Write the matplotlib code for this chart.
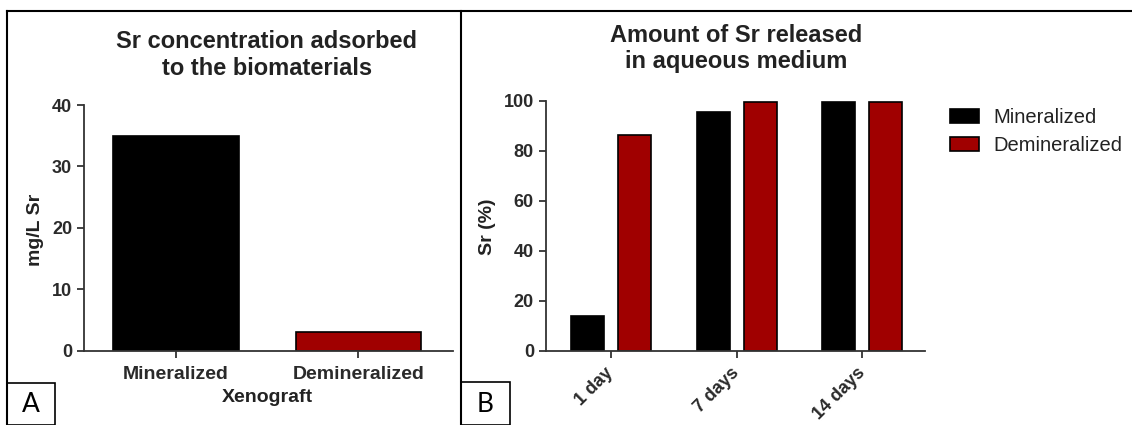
import numpy as np
import matplotlib
matplotlib.use("Agg")
import matplotlib.pyplot as plt
from matplotlib.lines import Line2D
from matplotlib.patches import Patch, Rectangle

plt.rcParams['font.family'] = ['Liberation Sans', 'DejaVu Sans']

# panel A: Sr adsorbed on the xenografts
xeno = ['Mineralized', 'Demineralized']
sr_adsorbed = [35.0, 3.0]

# panel B: Sr released over time (%)
days = ['1 day', '7 days', '14 days']
released_min = [14.0, 95.6, 99.5]
released_demin = [86.3, 99.6, 99.5]

black = '#000000'
red = '#a00000'
axis_col = '#333333'

W, H = 1132, 425
fig = plt.figure(figsize=(W / 100, H / 100), dpi=100)

def fx(px):
    return px / W

def fy(py):
    return 1 - py / H

def style_axes(ax):
    for s in ['top', 'right']:
        ax.spines[s].set_visible(False)
    for s in ['left', 'bottom']:
        ax.spines[s].set_linewidth(1.3)
        ax.spines[s].set_color(axis_col)
    ax.tick_params(direction='out', length=5, width=1.3, color=axis_col,
                   labelcolor='#2a2a2a', labelsize=13)
    for lab in ax.get_xticklabels() + ax.get_yticklabels():
        lab.set_fontweight('bold')

# ---- A ----
axA = fig.add_axes([fx(84), fy(350.7), fx(453 - 84), (350.7 - 105) / H])
xa = np.arange(len(xeno))
axA.bar(xa, sr_adsorbed, width=0.687, color=[black, red],
        edgecolor='black', linewidth=1.2)
axA.set_xlim(-0.505, 1.52)
axA.set_ylim(0, 40)
axA.set_yticks([0, 10, 20, 30, 40])
axA.set_xticks(xa)
axA.set_xticklabels(xeno)
style_axes(axA)
axA.tick_params(axis='x', pad=6, labelsize=14)

fig.text(fx(267), fy(55), 'Sr concentration adsorbed\nto the biomaterials',
         ha='center', va='center', fontsize=17, fontweight='bold',
         color='#222222', linespacing=1.2)
fig.text(fx(35), fy(230), 'mg/L Sr', rotation=90, ha='center', va='center',
         fontsize=14, fontweight='bold', color='#222222')
fig.text(fx(267), fy(397), 'Xenograft', ha='center', va='center',
         fontsize=14, fontweight='bold', color='#222222')

# ---- B ----
axB = fig.add_axes([fx(545.7), fy(350.7), fx(925 - 545.7), (350.7 - 100.7) / H])
xb = np.arange(len(days))
off, bw = 0.187, 0.263
axB.bar(xb - off, released_min, width=bw, color=black,
        edgecolor='black', linewidth=1.2, label='Mineralized')
axB.bar(xb + off, released_demin, width=bw, color=red,
        edgecolor='black', linewidth=1.2, label='Demineralized')
axB.set_xlim(-0.52, 2.5)
axB.set_ylim(0, 100)
axB.set_yticks([0, 20, 40, 60, 80, 100])
axB.set_xticks(xb)
axB.set_xticklabels(days, rotation=45, ha='right', va='center',
                    rotation_mode='anchor')
style_axes(axB)
axB.tick_params(axis='x', pad=9)

fig.text(fx(736), fy(48.5), 'Amount of Sr released\nin aqueous medium',
         ha='center', va='center', fontsize=17, fontweight='bold',
         color='#222222', linespacing=1.2)
fig.text(fx(488), fy(227), 'Sr (%)', rotation=90, ha='center', va='center',
         fontsize=14, fontweight='bold', color='#222222')

handles = [Patch(facecolor=black, edgecolor='black', linewidth=1.2),
           Patch(facecolor=red, edgecolor='black', linewidth=1.2)]
fig.legend(handles, ['Mineralized', 'Demineralized'], loc='upper left',
           bbox_to_anchor=(fx(949.5), fy(108)), frameon=False,
           fontsize=14.5, borderpad=0, borderaxespad=0,
           handlelength=1.45, handleheight=0.7, handletextpad=0.72,
           labelspacing=0.45, labelcolor='#222222')

# ---- frame lines and panel letters ----
lw = 1.5
fig.add_artist(Line2D([fx(7), 1], [fy(11), fy(11)], color='black', lw=lw))
fig.add_artist(Line2D([fx(7), fx(7)], [0, fy(11)], color='black', lw=lw))
fig.add_artist(Line2D([fx(460.5), fx(460.5)], [0, fy(11)], color='black', lw=lw))

for x0, x1, y0, letter in [(7, 55, 383, 'A'), (460.5, 510, 382, 'B')]:
    fig.add_artist(Rectangle((fx(x0), 0), fx(x1 - x0), fy(y0), fill=False,
                             edgecolor='black', lw=1.2,
                             transform=fig.transFigure))
    fig.text(fx((x0 + x1) / 2), fy(405), letter, ha='center', va='center',
             fontsize=19, family=['Lato', 'DejaVu Sans'])

fig.savefig('out.png', dpi=100)
